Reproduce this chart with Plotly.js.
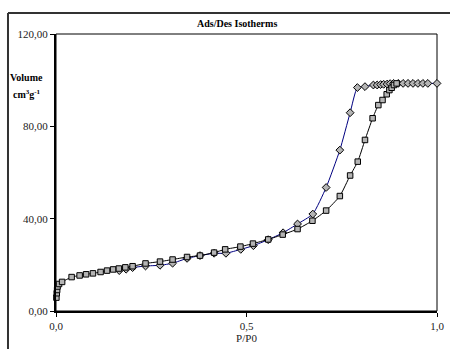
<!DOCTYPE html>
<html>
<head>
<meta charset="utf-8">
<script src="https://cdn.plot.ly/plotly-3.0.1.min.js"></script>
<style>
html,body{margin:0;padding:0;background:#fff;}
#chart{width:450px;height:349px;}
</style>
</head>
<body>
<div id="chart"></div>
<script>
// Adsorption branch (squares)
var adsP = [0.001,0.002,0.003,0.004,0.008,0.016,0.041,0.062,0.079,0.097,0.117,0.134,0.150,0.165,0.182,0.201,0.235,0.273,0.306,0.344,0.378,0.415,0.444,0.484,0.517,0.557,0.595,0.634,0.673,0.709,0.745,0.772,0.792,0.811,0.831,0.846,0.857,0.868,0.875,0.881,0.887,0.894];
var adsV = [5.8,7.7,9.1,10.6,11.7,12.6,14.7,15.4,15.9,16.3,16.9,17.5,18.0,18.4,18.9,19.4,20.6,21.4,22.3,23.4,24.0,25.3,26.7,27.9,29.2,31.0,33.1,35.5,39.1,43.5,49.8,58.7,64.7,74.1,83.5,89.2,91.4,93.9,95.7,96.7,97.9,98.6];
// Desorption branch (diamonds)
var desP = [0.166,0.184,0.201,0.235,0.273,0.306,0.344,0.378,0.415,0.446,0.485,0.518,0.557,0.596,0.634,0.674,0.709,0.745,0.772,0.791,0.811,0.833,0.843,0.852,0.860,0.869,0.877,0.886,0.898,0.911,0.924,0.937,0.950,0.963,0.976,1.000];
var desV = [17.5,18.1,18.8,19.5,19.8,20.7,22.8,24.0,25.0,25.0,26.7,28.3,30.9,33.9,37.7,42.0,53.5,69.7,85.9,96.8,97.2,97.9,97.9,98.1,98.2,98.3,98.5,98.6,98.6,98.6,98.6,98.6,98.6,98.6,98.6,98.6];
var xTicks = [0, 0.5, 1.0];
var yTicks = [0, 40, 80, 120];

var FONT = 'Liberation Serif, Times New Roman, serif';

var traces = [
  {x: desP, y: desV, mode: 'lines+markers', name: 'Desorption',
   line: {color: '#000080', width: 1, shape: 'spline', smoothing: 0.5},
   marker: {symbol: 'diamond', size: 6, color: '#b4b4b4', line: {color: '#000000', width: 1}},
   cliponaxis: false},
  {x: adsP, y: adsV, mode: 'lines+markers', name: 'Adsorption',
   line: {color: '#000000', width: 1, shape: 'spline', smoothing: 0.5},
   marker: {symbol: 'square', size: 5.5, color: '#b4b4b4', line: {color: '#000000', width: 1}},
   cliponaxis: false}
];

var layout = {
  width: 450, height: 349,
  margin: {l: 56, r: 13, t: 34, b: 38},
  paper_bgcolor: '#ffffff', plot_bgcolor: '#ffffff',
  separators: ',.',
  showlegend: false,
  font: {family: FONT, size: 10, color: '#000000'},
  xaxis: {
    range: [0, 1], tickvals: xTicks, tickformat: '.1f',
    showgrid: false, zeroline: false,
    showline: true, linecolor: '#000000', linewidth: 2,
    ticks: 'outside', ticklen: 4, tickwidth: 1, tickcolor: '#000000',
    tickfont: {family: FONT, size: 11, color: '#222222'},
    title: {text: 'P/P0', font: {family: FONT, size: 11, color: '#222222'}, standoff: 1}
  },
  yaxis: {
    range: [0, 120], tickvals: yTicks, tickformat: '.2f',
    showgrid: false, zeroline: false,
    showline: true, linecolor: '#000000', linewidth: 2,
    ticks: 'outside', ticklen: 4, tickwidth: 1, tickcolor: '#000000',
    tickfont: {family: FONT, size: 11, color: '#222222'}
  },
  shapes: [
    {type: 'rect', xref: 'paper', yref: 'paper', x0: 0, x1: 1, y0: 0, y1: 1,
     line: {color: '#000000', width: 1}, layer: 'below'},
    {type: 'line', xref: 'paper', yref: 'paper', x0: -0.126, x1: -0.126, y0: -0.3, y1: 1.0758,
     line: {color: '#333333', width: 2}, layer: 'above'},
    {type: 'line', xref: 'paper', yref: 'paper', x0: -0.126, x1: 1.2, y0: 1.0758, y1: 1.0758,
     line: {color: '#333333', width: 2}, layer: 'above'}
  ],
  annotations: [
    {text: '<b>Ads/Des Isotherms</b>', xref: 'paper', yref: 'paper', x: 0.475, y: 1.0, yanchor: 'bottom', yshift: 3,
     showarrow: false, font: {family: FONT, size: 10, color: '#000000'}},
    {text: '<b>Volume</b>', xref: 'paper', yref: 'paper', x: -0.077, y: 0.87, xanchor: 'center',
     showarrow: false, font: {family: FONT, size: 10, color: '#000000'}},
    {text: '<b>cm<sup>3</sup>g<sup>-1</sup></b>', xref: 'paper', yref: 'paper', x: -0.077, y: 0.812, xanchor: 'center',
     showarrow: false, font: {family: FONT, size: 10, color: '#000000'}}
  ]
};

Plotly.newPlot('chart', traces, layout, {staticPlot: true, displayModeBar: false});
</script>
</body>
</html>
